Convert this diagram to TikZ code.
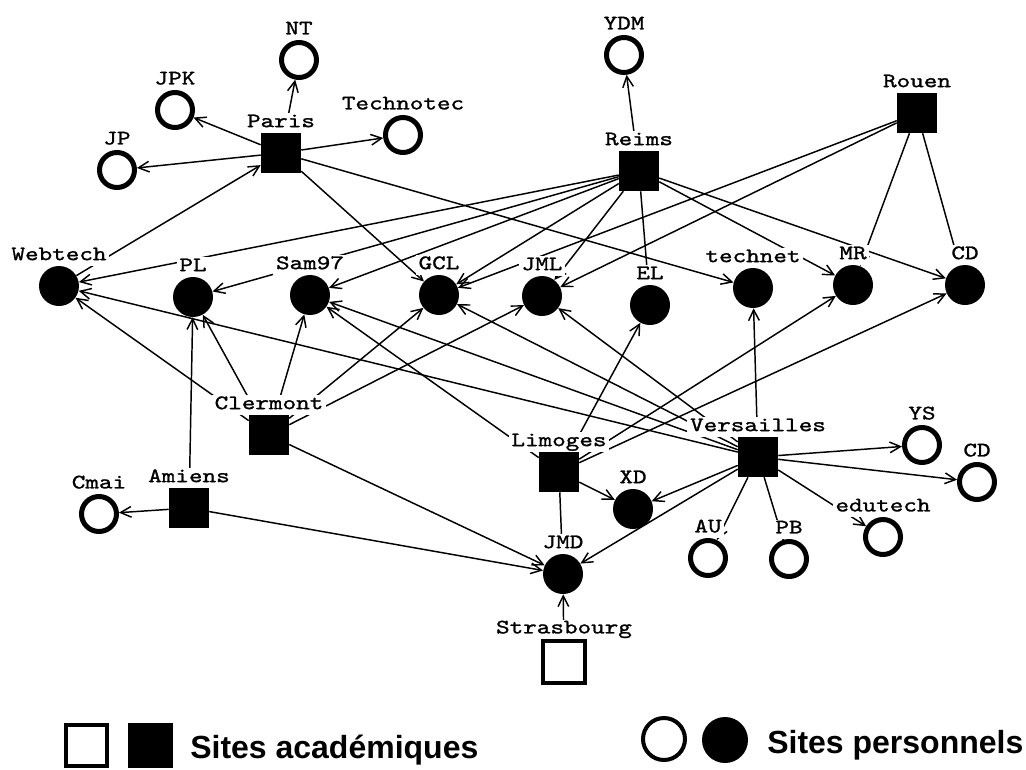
\documentclass[tikz,border=0pt]{standalone}
\usepackage{fontspec}
\usetikzlibrary{arrows.meta}
\usetikzlibrary{backgrounds}
\newfontfamily\lblfont{lmmono10-regular.otf}[FakeStretch=1.26,FakeBold=1.2]
\newfontfamily\legfont{Liberation Sans}
\tikzset{
    acad/.style={rectangle,fill=black,minimum size=30pt,inner sep=0pt},
    acadopen/.style={rectangle,draw=black,line width=3pt,minimum size=31.5pt,inner sep=0pt},
    perso/.style={circle,fill=black,minimum size=30pt,inner sep=0pt},
    persopen/.style={circle,draw=black,line width=3.75pt,minimum size=26.25pt,inner sep=0pt},
    lbl/.style={fill=white,inner xsep=2pt,inner ysep=1pt,text height=9.4pt,text depth=3.5pt,
        font=\lblfont\fontsize{15.4pt}{16pt}\selectfont},
    link/.style={line width=1.1pt,-{Straight Barb[length=8pt,width=8pt]}},
    plain/.style={line width=1.1pt},
    legtxt/.style={anchor=base west,inner sep=0pt,font=\legfont\bfseries\fontsize{24pt}{26pt}\selectfont}
}

\begin{document}
\begin{tikzpicture}[x=0.75pt,y=-0.75pt,label distance=-0.5pt]
    \useasboundingbox (0,0) rectangle (1026,769);

    \node[acad,label={[lbl]above:Paris}] (paris) at (281,153) {};
    \node[acad,label={[lbl]above:Reims}] (reims) at (639,171) {};
    \node[acad,label={[lbl]above:Rouen}] (rouen) at (917,113) {};
    \node[acad,label={[lbl]above:Clermont}] (clermont) at (269,435) {};
    \node[acad,label={[lbl]above:Amiens}] (amiens) at (189,508) {};
    \node[acad,label={[lbl]above:Limoges}] (limoges) at (559,472) {};
    \node[acad,label={[lbl]above:Versailles}] (versailles) at (758,457) {};
    \node[acadopen,label={[lbl]above:Strasbourg}] (strasbourg) at (564,662) {};

    \node[perso,label={[lbl]above:Webtech}] (webtech) at (59,286) {};
    \node[perso,label={[lbl]above:PL}] (pl) at (193,297) {};
    \node[perso,label={[lbl]above:Sam97}] (sam) at (310,295) {};
    \node[perso,label={[lbl]above:GCL}] (gcl) at (439,295) {};
    \node[perso,label={[lbl]above:JML}] (jml) at (542,296) {};
    \node[perso,label={[lbl]above:EL}] (el) at (650,305) {};
    \node[perso,label={[lbl]above:technet}] (technet) at (753,288) {};
    \node[perso,label={[lbl]above:MR}] (mr) at (853,285) {};
    \node[perso,label={[lbl]above:CD}] (cd) at (965,285) {};
    \node[perso,label={[lbl]above:XD}] (xd) at (633,509) {};
    \node[perso,label={[lbl]above:JMD}] (jmd) at (563,574) {};

    \node[persopen,label={[lbl]above:NT}] (nt) at (299,60) {};
    \node[persopen,label={[lbl]above:JPK}] (jpk) at (175,110) {};
    \node[persopen,label={[lbl]above:JP}] (jp) at (117,170) {};
    \node[persopen,label={[lbl]above:Technotec}] (technotec) at (403,135) {};
    \node[persopen,label={[lbl]above:YDM}] (ydm) at (624,55) {};
    \node[persopen,label={[lbl]above:YS}] (ys) at (922,445) {};
    \node[persopen,label={[lbl]above:CD}] (cdb) at (977,482) {};
    \node[persopen,label={[lbl]above:edutech}] (edutech) at (883,537) {};
    \node[persopen,label={[lbl]above:AU}] (au) at (708,558) {};
    \node[persopen,label={[lbl]above:PB}] (pb) at (789,559) {};
    \node[persopen,label={[lbl]above:Cmai}] (cmai) at (99,514) {};

    \begin{scope}[on background layer]
    \draw[link] (paris) -- (nt);
    \draw[link] (paris) -- (jpk);
    \draw[link] (paris) -- (jp);
    \draw[link] (paris) -- (technotec);
    \draw[link] (paris) -- (gcl);
    \draw[link] (paris) -- (technet);
    \draw[link] (webtech) -- (paris);

    \draw[link] (reims) -- (ydm);
    \draw[link] (reims) -- (webtech);
    \draw[link] (reims) -- (pl);
    \draw[link] (reims) -- (sam);
    \draw[link] (reims) -- (gcl);
    \draw[link] (reims) -- (jml);
    \draw[plain] (reims) -- (el);
    \draw[link] (reims) -- (mr);
    \draw[link] (reims) -- (cd);

    \draw[link] (rouen) -- (gcl);
    \draw[link] (rouen) -- (jml);
    \draw[link] (rouen) -- (mr);
    \draw[link] (rouen) -- (cd);

    \draw[link] (clermont) -- (webtech);
    \draw[link] (clermont) -- (pl);
    \draw[link] (clermont) -- (sam);
    \draw[link] (clermont) -- (gcl);
    \draw[link] (clermont) -- (jml);
    \draw[link] (clermont) -- (jmd);

    \draw[link] (amiens) -- (pl);
    \draw[link] (amiens) -- (cmai);
    \draw[link] (amiens) -- (jmd);

    \draw[link] (limoges) -- (sam);
    \draw[link] (limoges) -- (el);
    \draw[link] (limoges) -- (mr);
    \draw[link] (limoges) -- (cd);
    \draw[link] (limoges) -- (xd);
    \draw[plain] (limoges) -- (jmd);

    \draw[link] (versailles) -- (webtech);
    \draw[link] (versailles) -- (sam);
    \draw[link] (versailles) -- (gcl);
    \draw[link] (versailles) -- (jml);
    \draw[link] (versailles) -- (technet);
    \draw[link] (versailles) -- (xd);
    \draw[link] (versailles) -- (jmd);
    \draw[link] (versailles) -- (au);
    \draw[plain] (versailles) -- (pb);
    \draw[link] (versailles) -- (edutech);
    \draw[link] (versailles) -- (ys);
    \draw[link] (versailles) -- (cdb);

    \draw[link] (strasbourg) -- (jmd);
    \end{scope}

    % legende
    \node[acadopen,line width=3pt,minimum size=30.75pt] (legacadopen) at (86,745.5) {};
    \node[acad,minimum size=33.75pt] (legacad) at (150,745.5) {};
    \node[legtxt] (legacadtxt) at (190,758) {Sites académiques};
    \node[persopen,line width=3pt,minimum size=31.5pt] (legpersopen) at (664,739) {};
    \node[perso,minimum size=34.5pt] (legperso) at (725,740) {};
    \node[legtxt] (legpersotxt) at (767,753) {Sites personnels};
\end{tikzpicture}
\end{document}
